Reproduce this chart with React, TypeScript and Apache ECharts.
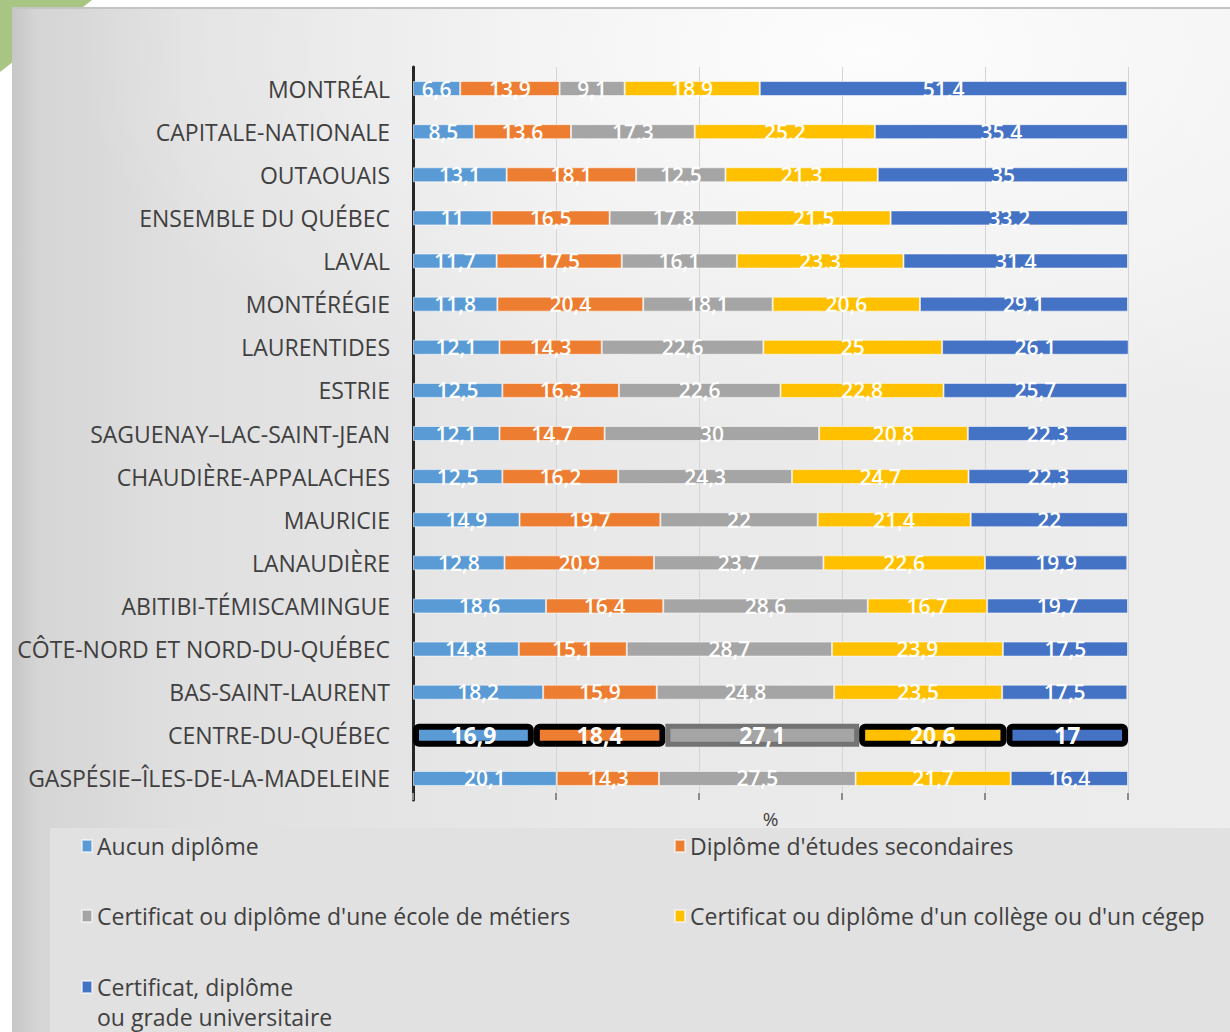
import React, { useEffect, useRef } from "react";
import * as echarts from "echarts";

const categories = [
  "MONTRÉAL",
  "CAPITALE-NATIONALE",
  "OUTAOUAIS",
  "ENSEMBLE DU QUÉBEC",
  "LAVAL",
  "MONTÉRÉGIE",
  "LAURENTIDES",
  "ESTRIE",
  "SAGUENAY–LAC-SAINT-JEAN",
  "CHAUDIÈRE-APPALACHES",
  "MAURICIE",
  "LANAUDIÈRE",
  "ABITIBI-TÉMISCAMINGUE",
  "CÔTE-NORD ET NORD-DU-QUÉBEC",
  "BAS-SAINT-LAURENT",
  "CENTRE-DU-QUÉBEC",
  "GASPÉSIE–ÎLES-DE-LA-MADELEINE",
];

const aucunDiplome = [6.6, 8.5, 13.1, 11, 11.7, 11.8, 12.1, 12.5, 12.1, 12.5, 14.9, 12.8, 18.6, 14.8, 18.2, 16.9, 20.1];
const diplomeSecondaires = [13.9, 13.6, 18.1, 16.5, 17.5, 20.4, 14.3, 16.3, 14.7, 16.2, 19.7, 20.9, 16.4, 15.1, 15.9, 18.4, 14.3];
const ecoleMetiers = [9.1, 17.3, 12.5, 17.8, 16.1, 18.1, 22.6, 22.6, 30, 24.3, 22, 23.7, 28.6, 28.7, 24.8, 27.1, 27.5];
const collegeCegep = [18.9, 25.2, 21.3, 21.5, 23.3, 20.6, 25, 22.8, 20.8, 24.7, 21.4, 22.6, 16.7, 23.9, 23.5, 20.6, 21.7];
const universitaire = [51.4, 35.4, 35, 33.2, 31.4, 29.1, 26.1, 25.7, 22.3, 22.3, 22, 19.9, 19.7, 17.5, 17.5, 17, 16.4];

const seriesNames = [
  "Aucun diplôme",
  "Diplôme d'études secondaires",
  "Certificat ou diplôme d'une école de métiers",
  "Certificat ou diplôme d'un collège ou d'un cégep",
  "Certificat, diplôme\nou grade universitaire",
];
const seriesColors = ["#5b9bd5", "#ed7d31", "#a5a5a5", "#ffc000", "#4472c4"];
const seriesValues = [aucunDiplome, diplomeSecondaires, ecoleMetiers, collegeCegep, universitaire];

const highlightCategory = "CENTRE-DU-QUÉBEC";

const FONT = "'Open Sans', 'Noto Sans', sans-serif";

const fmt = (p: any) => String(p.value).replace(".", ",");

export default function App() {
  const ref = useRef<HTMLDivElement>(null);

  useEffect(() => {
    if (!ref.current) return;
    const chart = echarts.init(ref.current, undefined, { renderer: "svg" });
    const hi = categories.indexOf(highlightCategory);

    const mainSeries = seriesValues.map((vals, si) => ({
      name: seriesNames[si],
      type: "bar",
      stack: "total",
      barWidth: 15,
      clip: false,
      itemStyle: {
        color: seriesColors[si],
        borderColor: "rgba(255,255,255,0.55)",
        borderWidth: 1,
      },
      label: {
        show: true,
        position: "inside",
        color: "#ffffff",
        fontFamily: FONT,
        fontSize: 21,
        fontWeight: 600,
        formatter: fmt,
      },
      data: vals.map((v, i) => (i === hi ? "-" : v)),
    }));

    const hiSeries = seriesValues.map((vals, si) => ({
      name: seriesNames[si],
      type: "bar",
      stack: "highlight",
      yAxisIndex: 1,
      barWidth: 23,
      clip: false,
      itemStyle: {
        color: seriesColors[si],
        borderColor: si === 2 ? "#737373" : "#000000",
        borderWidth: si === 2 ? 5 : 6,
        borderRadius: si === 2 ? 0 : 3,
      },
      label: {
        show: true,
        position: "inside",
        color: "#ffffff",
        fontFamily: FONT,
        fontSize: 23,
        fontWeight: "bold",
        formatter: fmt,
      },
      data: vals.map((v, i) => (i === hi ? v : "-")),
    }));

    const legendText = {
      fontFamily: FONT,
      fontSize: 23,
      color: "#404040",
      lineHeight: 24,
    };
    const legendBase = {
      orient: "vertical",
      padding: 0,
      itemWidth: 10,
      itemHeight: 12,
      itemGap: 46,
      icon: "rect",
    };

    chart.setOption({
      animation: false,
      grid: { left: 413, right: 102, top: 67, bottom: 232, containLabel: false },
      xAxis: {
        type: "value",
        min: 0,
        max: 100,
        interval: 20,
        axisLabel: { show: false },
        axisLine: { show: false },
        axisTick: { show: true, inside: true, length: 7, lineStyle: { color: "#8c8c8c", width: 2 } },
        splitLine: { show: true, lineStyle: { color: "#d4d4d4", width: 1 } },
        name: "%",
        nameLocation: "middle",
        nameGap: 9,
        nameTextStyle: { fontFamily: FONT, fontSize: 19, color: "#404040", lineHeight: 19 },
      },
      yAxis: [
        {
          type: "category",
          inverse: true,
          data: categories,
          axisLine: { show: true, lineStyle: { color: "#262626", width: 3 } },
          axisTick: { show: false },
          axisLabel: { fontFamily: FONT, fontSize: 23, color: "#404040", margin: 23 },
        },
        {
          type: "category",
          inverse: true,
          data: categories,
          show: false,
        },
      ],
      legend: [
        {
          ...legendBase,
          left: 81,
          top: 834,
          textStyle: legendText,
          data: [seriesNames[0], seriesNames[2]],
        },
        {
          ...legendBase,
          left: 674,
          top: 834,
          textStyle: legendText,
          data: [seriesNames[1], seriesNames[3]],
        },
        {
          ...legendBase,
          left: 81,
          top: 942,
          textStyle: { ...legendText, lineHeight: 30 },
          formatter: (name: string) => " \n" + name,
          data: [seriesNames[4]],
        },
      ],
      series: [...mainSeries, ...hiSeries],
    });

    return () => chart.dispose();
  }, []);

  return (
    <div
      style={{
        position: "absolute",
        left: 0,
        top: 0,
        width: 1230,
        height: 1032,
        overflow: "hidden",
        background: "#ffffff",
      }}
    >
      <div
        style={{
          position: "absolute",
          left: 0,
          top: 0,
          width: 100,
          height: 80,
          background: "#a8c584",
          clipPath: "polygon(0 0, 92px 0, 0 72px)",
        }}
      />
      <div
        style={{
          position: "absolute",
          left: 12,
          top: 7,
          right: 0,
          bottom: 0,
          borderTop: "2px solid #c4c4c4",
          background:
            "radial-gradient(ellipse 65% 40% at 70% 4%, rgba(255,255,255,0.9), rgba(255,255,255,0) 100%), linear-gradient(90deg, #c6c6c6 0px, #d5d5d5 25px, #e0e0e0 180px, #e9e9e9 600px, #ededed 100%)",
        }}
      />
      <div
        style={{
          position: "absolute",
          left: 50,
          top: 828,
          right: 0,
          bottom: 0,
          background: "#e1e1e1",
        }}
      />
      <div ref={ref} style={{ position: "absolute", left: 0, top: 0, width: 1230, height: 1032 }} />
    </div>
  );
}
